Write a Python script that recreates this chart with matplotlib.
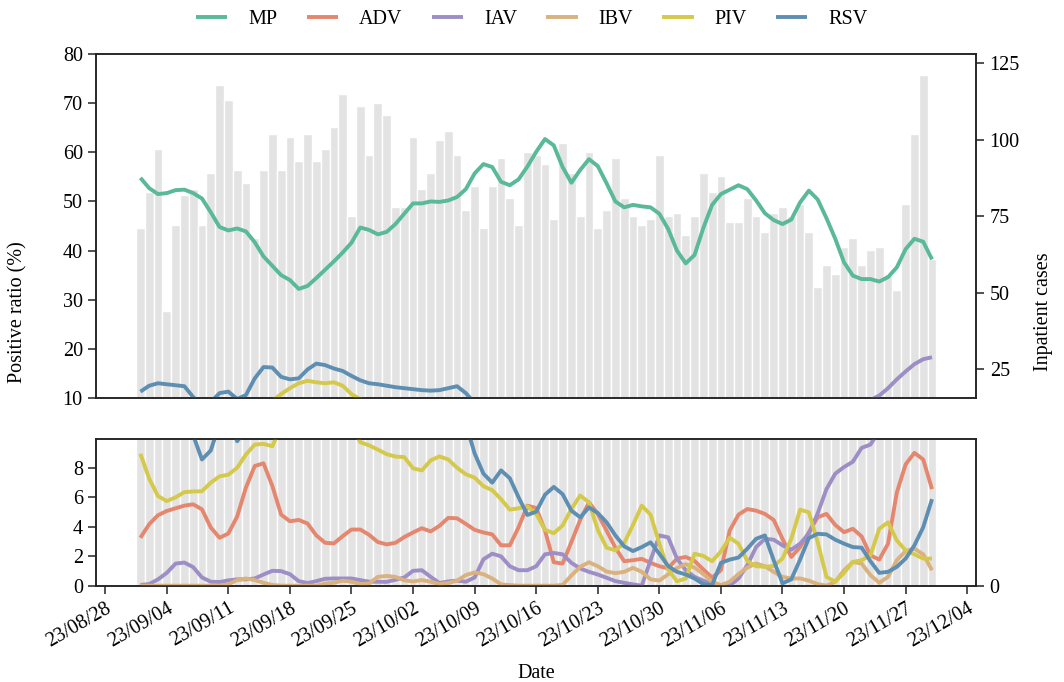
import matplotlib.pyplot as plt
import matplotlib.dates as mdates
import pandas as pd

plt.rcParams['font.family'] = ['Liberation Serif', 'DejaVu Serif']

# daily data, 2023-09-01 .. 2023-11-30
dates = pd.date_range('2023-09-01', '2023-11-30', freq='D')

cases = [71, 83, 97, 44, 72, 82, 84, 72, 89, 118,
         113, 90, 86, 68, 90, 102, 90, 101, 93, 102,
         93, 97, 104, 115, 75, 111, 95, 112, 108, 78,
         78, 101, 84, 89, 100, 103, 95, 77, 85, 71,
         85, 94, 81, 72, 96, 95, 92, 74, 99, 89,
         75, 96, 71, 77, 94, 81, 75, 72, 74, 95,
         75, 76, 69, 75, 89, 83, 88, 73, 73, 81,
         75, 70, 76, 78, 75, 79, 70, 52, 59, 56,
         65, 68, 59, 64, 65, 56, 51, 79, 102, 121,
         61]

mp = [54.8, 52.7, 51.5, 51.7, 52.3, 52.4, 51.7, 50.6, 47.8, 44.8,
      44.1, 44.5, 43.9, 41.7, 38.8, 36.9, 35.0, 34.0, 32.2, 32.8,
      34.4, 36.1, 37.8, 39.6, 41.6, 44.7, 44.2, 43.3, 43.8, 45.4,
      47.5, 49.6, 49.6, 50.0, 49.9, 50.2, 50.9, 52.5, 55.7, 57.6,
      57.0, 54.0, 53.3, 54.5, 57.1, 60.1, 62.7, 61.4, 57.0, 53.8,
      56.4, 58.6, 57.2, 53.7, 50.0, 48.8, 49.3, 49.0, 48.8, 47.5,
      44.4, 40.0, 37.4, 39.1, 44.6, 49.3, 51.5, 52.4, 53.3, 52.5,
      50.2, 47.6, 46.2, 45.4, 46.3, 49.8, 52.2, 50.4, 46.6, 42.4,
      37.6, 34.9, 34.2, 34.2, 33.7, 34.6, 36.6, 40.3, 42.4, 41.8,
      38.2]

adv = [3.25, 4.17, 4.78, 5.07, 5.25, 5.43, 5.52, 5.18, 3.95, 3.25,
       3.54, 4.69, 6.66, 8.12, 8.30, 6.77, 4.82, 4.37, 4.46, 4.22,
       3.41, 2.91, 2.87, 3.36, 3.81, 3.81, 3.45, 2.96, 2.80, 2.91,
       3.30, 3.61, 3.90, 3.68, 4.06, 4.60, 4.57, 4.19, 3.79, 3.61,
       3.48, 2.74, 2.74, 3.97, 5.43, 5.27, 3.74, 1.59, 1.50, 2.96,
       4.46, 5.65, 4.87, 3.74, 2.58, 1.66, 1.73, 1.82, 1.55, 1.32,
       1.18, 1.84, 1.95, 1.68, 1.10, 0.55, 1.05, 3.74, 4.82, 5.20,
       5.09, 4.87, 4.46, 3.18, 1.95, 2.62, 3.63, 4.64, 4.87, 4.12,
       3.63, 3.86, 3.34, 2.06, 1.77, 2.85, 6.32, 8.23, 9.01, 8.56,
       6.55]

iav = [0.05, 0.11, 0.43, 0.87, 1.50, 1.57, 1.26, 0.56, 0.27, 0.25,
       0.36, 0.43, 0.43, 0.49, 0.76, 1.01, 0.99, 0.78, 0.31, 0.18,
       0.31, 0.47, 0.49, 0.49, 0.49, 0.38, 0.27, 0.27, 0.26, 0.40,
       0.56, 1.01, 1.05, 0.60, 0.18, 0.29, 0.34, 0.27, 0.56, 1.79,
       2.17, 1.99, 1.32, 1.05, 1.05, 1.32, 2.13, 2.22, 2.13, 1.55,
       1.17, 0.94, 0.76, 0.54, 0.31, 0.20, 0.09, 0.00, 1.73, 3.41,
       3.28, 1.84, 1.05, 0.60, 0.34, 0.11, 0.00, 0.00, 0.49, 1.39,
       2.62, 3.18, 3.12, 2.74, 2.44, 2.85, 3.52, 4.91, 6.55, 7.60,
       8.05, 8.41, 9.35, 9.57, 10.5, 12.0, 13.8, 15.4, 16.9, 17.9,
       18.3]

ibv = [0.0, 0.0, 0.0, 0.0, 0.0, 0.0, 0.0, 0.0, 0.0, 0.0,
       0.10, 0.38, 0.49, 0.38, 0.20, 0.05, 0.0, 0.0, 0.0, 0.0,
       0.0, 0.15, 0.20, 0.34, 0.27, 0.11, 0.15, 0.60, 0.66, 0.60,
       0.36, 0.29, 0.38, 0.27, 0.11, 0.18, 0.34, 0.72, 0.90, 0.78,
       0.49, 0.09, 0.04, 0.0, 0.0, 0.0, 0.0, 0.0, 0.05, 0.69,
       1.28, 1.59, 1.32, 0.96, 0.85, 0.94, 1.21, 0.94, 0.43, 0.35,
       0.77, 1.20, 1.46, 1.23, 0.79, 0.27, 0.04, 0.27, 0.79, 1.23,
       1.50, 1.32, 0.94, 0.60, 0.49, 0.49, 0.34, 0.11, 0.0, 0.27,
       1.05, 1.61, 1.50, 0.72, 0.20, 0.60, 1.73, 2.35, 2.51, 2.13,
       1.05]

piv = [8.95, 7.26, 6.08, 5.74, 5.99, 6.35, 6.39, 6.41, 6.99, 7.42,
       7.53, 8.00, 8.90, 9.57, 9.62, 9.46, 10.8, 12.0, 13.0, 13.5,
       13.2, 13.0, 13.2, 12.5, 10.8, 9.73, 9.52, 9.23, 8.92, 8.76,
       8.72, 7.96, 7.82, 8.50, 8.77, 8.56, 8.00, 7.56, 7.33, 6.75,
       6.48, 5.87, 5.16, 5.25, 5.38, 4.87, 3.79, 3.56, 4.08, 5.20,
       6.12, 5.65, 3.79, 2.58, 2.40, 2.89, 4.12, 5.43, 4.82, 2.85,
       1.10, 0.30, 0.49, 2.17, 2.02, 1.66, 2.33, 3.25, 2.85, 1.68,
       1.32, 1.28, 1.34, 1.84, 3.18, 5.16, 4.98, 2.96, 0.60, 0.27,
       0.87, 1.61, 1.73, 2.06, 3.86, 4.30, 3.07, 2.40, 2.13, 1.84,
       1.84]

rsv = [11.3, 12.5, 13.0, 12.8, 12.6, 12.4, 10.2, 8.56, 9.17, 11.0,
       11.3, 9.8, 10.6, 14.0, 16.3, 16.2, 14.3, 13.8, 14.0, 15.8,
       17.0, 16.7, 16.0, 15.5, 14.5, 13.6, 13.0, 12.8, 12.5, 12.2,
       12.0, 11.8, 11.6, 11.5, 11.6, 12.0, 12.4, 11.0, 8.97, 7.60,
       6.99, 7.82, 7.29, 5.99, 4.80, 5.02, 6.17, 6.70, 6.21, 5.09,
       4.64, 5.31, 4.93, 4.30, 3.41, 2.67, 2.35, 2.62, 2.94, 2.17,
       1.33, 0.94, 0.76, 0.49, 0.11, 0.04, 1.55, 1.77, 1.91, 2.51,
       3.18, 3.41, 1.73, 0.16, 0.43, 1.77, 3.23, 3.52, 3.48, 3.12,
       2.85, 2.62, 2.58, 1.66, 0.87, 0.94, 1.28, 1.84, 2.74, 3.97,
       5.87]

names = ['MP', 'ADV', 'IAV', 'IBV', 'PIV', 'RSV']
colors = ['#5ab99a', '#e5876f', '#9d8ec6', '#d9b27f', '#d5c94b', '#5e8fb3']
series = [mp, adv, iav, ibv, piv, rsv]

fs = 14.5

fig = plt.figure(figsize=(10.64, 6.82), dpi=100)
ax1 = fig.add_axes([0.0902, 0.4164, 0.8275, 0.5044])
ax2 = fig.add_axes([0.0902, 0.1412, 0.8275, 0.2151], sharex=ax1)
ax1b = ax1.twinx()
ax2b = ax2.twinx()

# bars (inpatient cases) on the right axes, behind the lines
for a in (ax1b, ax2b):
    a.bar(dates, cases, width=1, color='#e3e3e3', edgecolor='white', linewidth=1)
ax1b.set_ylim(15.6, 128)
ax1b.set_yticks([25, 50, 75, 100, 125])
ax2b.set_ylim(0, 10)
ax2b.set_yticks([0])

for a in (ax1, ax2):
    a.set_zorder(2)
    a.patch.set_visible(False)
    for name, vals, c in zip(names, series, colors):
        a.plot(dates, vals, color=c, lw=2.8, label=name, solid_capstyle='butt')

ax1.set_ylim(10, 80)
ax1.set_yticks(range(10, 81, 10))
ax2.set_ylim(0, 9.95)
ax2.set_yticks([0, 2, 4, 6, 8])

left = mdates.date2num(pd.Timestamp('2023-09-01')) - 5.05
right = mdates.date2num(pd.Timestamp('2023-11-30')) + 5.05
ax2.set_xlim(left, right)
ax1.tick_params(axis='x', bottom=False, labelbottom=False)
ax2.xaxis.set_major_locator(mdates.WeekdayLocator(byweekday=mdates.MO))
ax2.xaxis.set_major_formatter(mdates.DateFormatter('%y/%m/%d'))

for a in (ax1, ax2, ax1b, ax2b):
    a.tick_params(direction='out', length=6, width=1.1, labelsize=fs, color='#222222')
    for sp in a.spines.values():
        sp.set_linewidth(1.1)
        sp.set_color('#222222')

plt.setp(ax2.get_xticklabels(), rotation=30, ha='right', rotation_mode='anchor')
ax2.set_xlabel('Date', fontsize=fs, labelpad=9)

fig.text(0.017, 0.543, 'Positive ratio (%)', rotation=90, va='center', ha='center', fontsize=fs)
fig.text(0.981, 0.543, 'Inpatient cases', rotation=90, va='center', ha='center', fontsize=fs)

handles, labels = ax1.get_legend_handles_labels()
fig.legend(handles, labels, loc='upper center', bbox_to_anchor=(0.5, 1.012), ncol=6,
           frameon=False, fontsize=fs, handlelength=1.55, handletextpad=1.05,
           columnspacing=1.45)

fig.savefig('out.png', dpi=100)
